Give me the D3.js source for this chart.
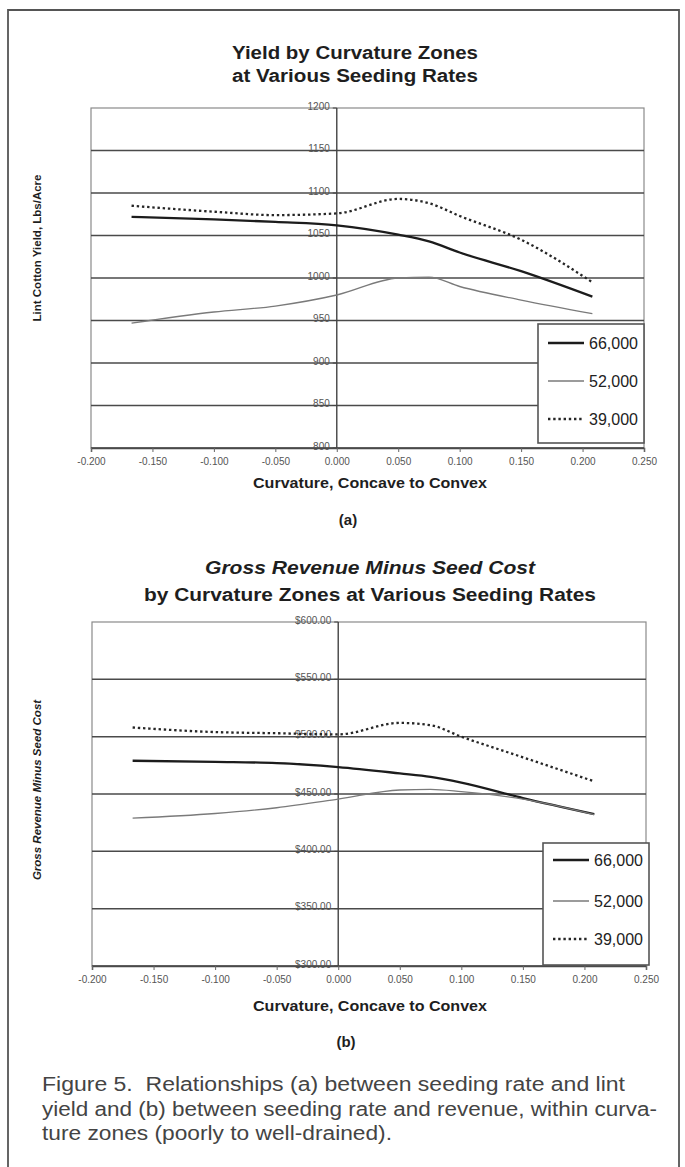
<!DOCTYPE html>
<html>
<head>
<meta charset="utf-8">
<script src="https://cdn.jsdelivr.net/npm/d3@7"></script>
<style>
  body { margin: 0; background: #fff; }
  svg { display: block; }
</style>
</head>
<body>
<script>
// Curvature zone centres (concave -> convex)
const curvature = [-0.167, -0.1, -0.05, 0, 0.05, 0.075, 0.1, 0.15, 0.208];

// Lint yield (lbs/acre) by seeding rate
const yield66 = [1072, 1069, 1066, 1062, 1051, 1043, 1030, 1008, 978];
const yield52 = [947, 960, 967, 980, 1000, 1001, 990, 974, 958];
const yield39 = [1085, 1078, 1074, 1076, 1093, 1088, 1073, 1045, 995];

// Gross revenue minus seed cost ($/acre) by seeding rate
const revenue66 = [479, 478, 477, 473.5, 468, 465, 460, 446.5, 432.5];
const revenue52 = [429, 433, 438, 445.5, 453.5, 454, 452, 445.5, 432];
const revenue39 = [508, 504, 503, 502, 512, 510, 500, 482, 461];

const rateLabels = ["66,000", "52,000", "39,000"];

// Axis ticks
const xTickValues = [-0.2, -0.15, -0.1, -0.05, 0, 0.05, 0.1, 0.15, 0.2, 0.25];
const yieldTicks = [800, 850, 900, 950, 1000, 1050, 1100, 1150, 1200];
const revenueTicks = [300, 350, 400, 450, 500, 550, 600];

const W = 685, H = 1167;
const svg = d3.select("body").append("svg")
  .attr("width", W).attr("height", H)
  .attr("viewBox", `0 0 ${W} ${H}`);

svg.append("rect").attr("width", W).attr("height", H).attr("fill", "#fff");

// outer figure frame (open at the bottom)
svg.append("path")
  .attr("d", `M8,${H + 2} L8,10 L679,10 L679,${H + 2}`)
  .attr("fill", "none").attr("stroke", "#555").attr("stroke-width", 1.8);

const FONT = "'Liberation Sans', Arial, Helvetica, sans-serif";

// series styles in legend order
const styles = [
  { stroke: "#1c1c1c", width: 2.3, dash: null },
  { stroke: "#7a7a7a", width: 1.3, dash: null },
  { stroke: "#262626", width: 2.3, dash: "2.4,2.8" }
];

function fitWidth(sel, w) {
  sel.attr("textLength", w).attr("lengthAdjust", "spacingAndGlyphs");
}

function drawPanel(cfg) {
  const g = svg.append("g");
  const x = d3.scaleLinear().domain([-0.2, 0.25]).range([cfg.left, cfg.right]);
  const y = d3.scaleLinear().domain(cfg.yDomain).range([cfg.bottom, cfg.top]);

  // title lines
  cfg.titleLines.forEach((t, i) => {
    const tx = g.append("text")
      .attr("x", cfg.titleX).attr("y", cfg.titleY[i])
      .attr("text-anchor", "middle")
      .attr("font-family", FONT).attr("font-weight", "bold")
      .attr("font-size", 18).attr("fill", "#1e1e1e")
      .attr("font-style", t.italic ? "italic" : "normal")
      .text(t.text);
    fitWidth(tx, t.width);
  });

  // plot area border
  g.append("rect")
    .attr("x", cfg.left).attr("y", cfg.top)
    .attr("width", cfg.right - cfg.left).attr("height", cfg.bottom - cfg.top)
    .attr("fill", "#fff").attr("stroke", "#8a8a8a").attr("stroke-width", 1.2);

  // horizontal gridlines
  g.append("g").selectAll("line")
    .data(cfg.yTicks.filter(v => v !== cfg.yDomain[1]))
    .join("line")
    .attr("x1", cfg.left).attr("x2", cfg.right)
    .attr("y1", d => y(d)).attr("y2", d => y(d))
    .attr("stroke", "#4a4a4a").attr("stroke-width", 1.5);

  // vertical axis at curvature 0
  const x0 = x(0);
  g.append("line")
    .attr("x1", x0).attr("x2", x0).attr("y1", cfg.top).attr("y2", cfg.bottom)
    .attr("stroke", "#444").attr("stroke-width", 1.4);
  g.append("g").selectAll("line")
    .data(cfg.yTicks).join("line")
    .attr("x1", x0 - 4).attr("x2", x0)
    .attr("y1", d => y(d)).attr("y2", d => y(d))
    .attr("stroke", "#444").attr("stroke-width", 1);

  // y tick labels sit beside the zero axis
  g.append("g").selectAll("text")
    .data(cfg.yTicks).join("text")
    .attr("x", x0 - 7).attr("y", d => y(d) - 2)
    .attr("dy", "0.35em")
    .attr("text-anchor", "end")
    .attr("font-family", FONT).attr("font-size", 10)
    .attr("fill", "#555")
    .text(cfg.yFmt);

  // x ticks and labels
  const xa = g.append("g").attr("transform", `translate(0,${cfg.bottom})`)
    .call(d3.axisBottom(x).tickValues(xTickValues).tickSize(4)
      .tickFormat(v => v.toFixed(3)));
  xa.select(".domain").attr("stroke", "#4a4a4a").attr("stroke-width", 1.5);
  xa.selectAll(".tick line").attr("stroke", "#666");
  xa.selectAll(".tick text")
    .attr("font-family", FONT).attr("font-size", 10)
    .attr("fill", "#555").attr("y", 10);

  // series
  const line = d3.line()
    .x((d, i) => x(curvature[i]))
    .y(d => y(d))
    .curve(d3.curveMonotoneX);
  cfg.series.forEach((s, k) => {
    const st = styles[k];
    g.append("path").datum(s)
      .attr("d", line)
      .attr("fill", "none")
      .attr("stroke", st.stroke).attr("stroke-width", st.width)
      .attr("stroke-dasharray", st.dash)
      .attr("stroke-linejoin", "round");
  });

  // legend
  const L = cfg.legend;
  g.append("rect")
    .attr("x", L.x).attr("y", L.y).attr("width", L.w).attr("height", L.h)
    .attr("fill", "#fff").attr("stroke", "#555").attr("stroke-width", 1.6);
  rateLabels.forEach((lab, k) => {
    const st = styles[k];
    const ly = L.rows[k];
    g.append("line")
      .attr("x1", L.x + 10).attr("x2", L.x + 46)
      .attr("y1", ly).attr("y2", ly)
      .attr("stroke", st.stroke).attr("stroke-width", st.width)
      .attr("stroke-dasharray", st.dash);
    g.append("text")
      .attr("x", L.x + L.w - 6).attr("y", ly).attr("dy", "0.36em")
      .attr("text-anchor", "end")
      .attr("font-family", FONT).attr("font-size", 16)
      .attr("fill", "#222")
      .text(lab);
  });

  // x-axis title
  const xt = g.append("text")
    .attr("x", cfg.xTitle.x).attr("y", cfg.xTitle.y)
    .attr("text-anchor", "middle")
    .attr("font-family", FONT).attr("font-weight", "bold")
    .attr("font-size", 14).attr("fill", "#1e1e1e")
    .text("Curvature, Concave to Convex");
  fitWidth(xt, cfg.xTitle.w);

  // y-axis title
  g.append("text")
    .attr("transform", `translate(${cfg.yTitle.x},${cfg.yTitle.y}) rotate(-90)`)
    .attr("text-anchor", "middle")
    .attr("font-family", FONT).attr("font-weight", "bold")
    .attr("font-style", cfg.yTitle.italic ? "italic" : "normal")
    .attr("font-size", 11.5).attr("fill", "#1e1e1e")
    .text(cfg.yTitle.text);

  // panel letter
  g.append("text")
    .attr("x", cfg.letter.x).attr("y", cfg.letter.y)
    .attr("text-anchor", "middle")
    .attr("font-family", FONT).attr("font-weight", "bold")
    .attr("font-size", 15).attr("fill", "#1e1e1e")
    .text(cfg.letter.text);
}

// (a) yield panel
drawPanel({
  left: 91, right: 644, top: 108, bottom: 448,
  yDomain: [800, 1200], yTicks: yieldTicks, yFmt: d => d,
  series: [yield66, yield52, yield39],
  titleX: 355, titleY: [59, 82],
  titleLines: [
    { text: "Yield by Curvature Zones", width: 246 },
    { text: "at Various Seeding Rates", width: 246 }
  ],
  legend: { x: 538, y: 324, w: 106, h: 119, rows: [343, 381, 419] },
  xTitle: { x: 370, y: 488, w: 234 },
  yTitle: { x: 41, y: 248, text: "Lint Cotton Yield, Lbs/Acre" },
  letter: { x: 348, y: 525, text: "(a)" }
});

// (b) revenue panel
drawPanel({
  left: 92, right: 646, top: 622, bottom: 966,
  yDomain: [300, 600], yTicks: revenueTicks, yFmt: d => "$" + d.toFixed(2),
  series: [revenue66, revenue52, revenue39],
  titleX: 370, titleY: [574, 601],
  titleLines: [
    { text: "Gross Revenue Minus Seed Cost", width: 330, italic: true },
    { text: "by Curvature Zones at Various Seeding Rates", width: 452 }
  ],
  legend: { x: 543, y: 843, w: 106, h: 122, rows: [860, 901, 939] },
  xTitle: { x: 370, y: 1011, w: 234 },
  yTitle: { x: 41, y: 790, text: "Gross Revenue Minus Seed Cost", italic: true },
  letter: { x: 346, y: 1047, text: "(b)" }
});

// figure caption
const captionLines = [
  { text: "Figure 5.  Relationships (a) between seeding rate and lint", w: 583 },
  { text: "yield and (b) between seeding rate and revenue, within curva-", w: 615 },
  { text: "ture zones (poorly to well-drained).", w: 350 }
];
captionLines.forEach((c, i) => {
  const t = svg.append("text")
    .attr("x", 42).attr("y", 1091 + i * 24.5)
    .attr("font-family", FONT).attr("font-size", 20)
    .attr("fill", "#444")
    .attr("xml:space", "preserve")
    .style("white-space", "pre")
    .text(c.text);
  fitWidth(t, c.w);
});
</script>
</body>
</html>
